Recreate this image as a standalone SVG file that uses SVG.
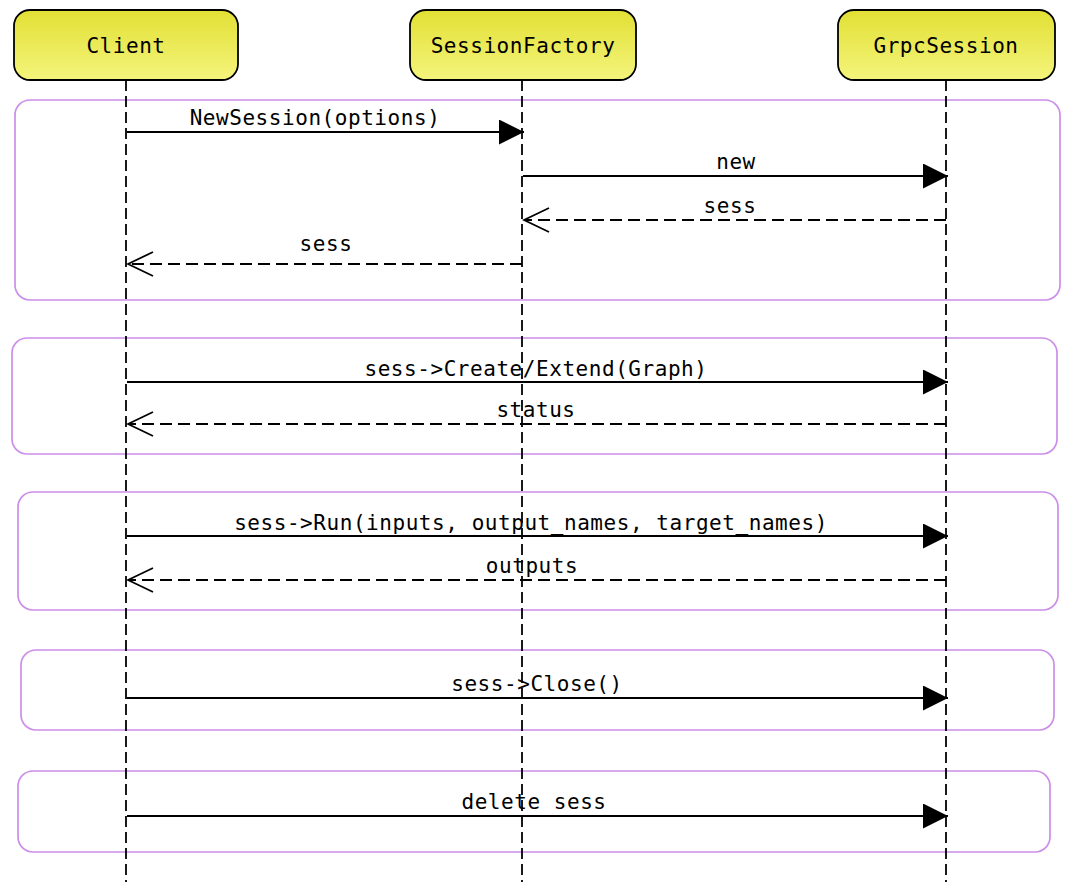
<svg xmlns="http://www.w3.org/2000/svg" width="1076" height="894" viewBox="0 0 1076 894">
<defs>
<linearGradient id="actorFill" x1="0" y1="0" x2="0" y2="1">
<stop offset="0" stop-color="#e2e034"/>
<stop offset="1" stop-color="#f4f47c"/>
</linearGradient>
<marker id="solidHead" markerWidth="26" markerHeight="26" refX="25" refY="12.5" orient="auto" markerUnits="userSpaceOnUse">
<path d="M0,0 L25,12.5 L0,25 Z" fill="#000"/>
</marker>
<marker id="openHead" markerWidth="28" markerHeight="28" refX="26" refY="13" orient="auto" markerUnits="userSpaceOnUse">
<path d="M1,1 L26,13 L1,25" fill="none" stroke="#000" stroke-width="1.8"/>
</marker>
</defs>
<style>
.actor rect{fill:url(#actorFill);stroke:#000;stroke-width:1.8}
.lbl{font-family:"DejaVu Sans Mono","Liberation Mono",monospace;font-size:21px;letter-spacing:0.55px;fill:#000;text-anchor:middle}
.life{stroke:#000;stroke-width:1.8;stroke-dasharray:11,5;fill:none}
.frame{fill:none;stroke:#cc8ee8;stroke-width:1.7}
.msg{stroke:#000;stroke-width:1.8;fill:none;marker-end:url(#solidHead)}
.ret{stroke:#000;stroke-width:1.8;fill:none;stroke-dasharray:12,6;marker-end:url(#openHead)}
</style>
<rect width="1076" height="894" fill="#fff"/>
<g id="frames">
<rect class="frame" x="15" y="100" width="1045" height="200" rx="15"/>
<rect class="frame" x="12" y="338" width="1045" height="116" rx="15"/>
<rect class="frame" x="18" y="492" width="1040" height="118" rx="15"/>
<rect class="frame" x="21" y="650" width="1033" height="80" rx="15"/>
<rect class="frame" x="18" y="771" width="1032" height="81" rx="15"/>
</g>
<g id="lifelines">
<line class="life" x1="126" y1="80" x2="126" y2="882"/>
<line class="life" x1="522" y1="80" x2="522" y2="882"/>
<line class="life" x1="946" y1="80" x2="946" y2="882"/>
</g>
<g id="client" class="actor">
<rect x="14" y="10" width="224" height="70" rx="16"/>
<text class="lbl" x="126" y="53">Client</text>
</g>
<g id="sessionfactory" class="actor">
<rect x="410" y="10" width="226" height="70" rx="16"/>
<text class="lbl" x="523" y="53">SessionFactory</text>
</g>
<g id="grpcsession" class="actor">
<rect x="838" y="10" width="217" height="70" rx="16"/>
<text class="lbl" x="946" y="53">GrpcSession</text>
</g>
<g id="connectors">
<line class="msg" x1="127" y1="132" x2="524" y2="132"/>
<text class="lbl" x="315" y="125">NewSession(options)</text>
<line class="msg" x1="523" y1="176" x2="948" y2="176"/>
<text class="lbl" x="736" y="169">new</text>
<line class="ret" x1="946" y1="220" x2="524" y2="220"/>
<text class="lbl" x="730" y="213">sess</text>
<line class="ret" x1="522" y1="264" x2="128" y2="264"/>
<text class="lbl" x="326" y="251">sess</text>
<line class="msg" x1="127" y1="382" x2="948" y2="382"/>
<text class="lbl" x="536" y="376">sess-&gt;Create/Extend(Graph)</text>
<line class="ret" x1="946" y1="424" x2="128" y2="424"/>
<text class="lbl" x="536" y="417">status</text>
<line class="msg" x1="127" y1="536" x2="948" y2="536"/>
<text class="lbl" x="531" y="530">sess-&gt;Run(inputs, output_names, target_names)</text>
<line class="ret" x1="946" y1="580" x2="128" y2="580"/>
<text class="lbl" x="532" y="573">outputs</text>
<line class="msg" x1="127" y1="698" x2="948" y2="698"/>
<text class="lbl" x="537" y="691">sess-&gt;Close()</text>
<line class="msg" x1="127" y1="816" x2="948" y2="816"/>
<text class="lbl" x="534" y="809">delete sess</text>
</g>
</svg>
